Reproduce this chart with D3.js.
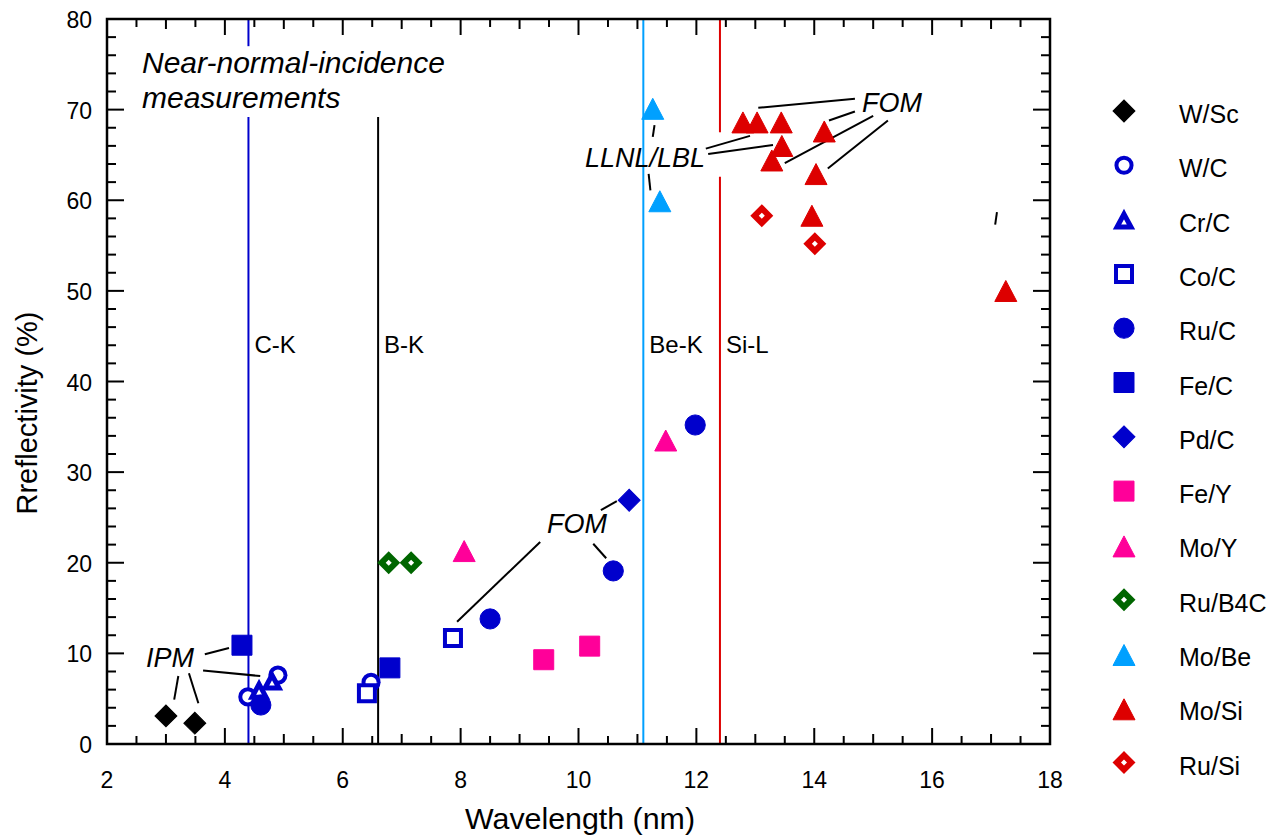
<!DOCTYPE html>
<html>
<head>
<meta charset="utf-8">
<script src="https://cdn.jsdelivr.net/npm/d3@7"></script>
<style>
  body { margin: 0; background: #fff; }
  svg text { font-family: "Liberation Sans", Arial, sans-serif; }
</style>
</head>
<body>
<svg id="chart" width="1272" height="838"></svg>
<script>
// ---- data ----
var seriesNames = ["W/Sc", "W/C", "Cr/C", "Co/C", "Ru/C", "Fe/C", "Pd/C", "Fe/Y", "Mo/Y", "Ru/B4C", "Mo/Be", "Mo/Si", "Ru/Si"];
var seriesColors = ["#000000", "#0000cc", "#0000cc", "#0000cc", "#0000cc", "#0000cc", "#0000cc", "#ff0099", "#ff0099", "#006600", "#00a0ff", "#dd0000", "#dd0000"];
var seriesShapes = ["diamond", "ocircle", "otriangle", "osquare", "circle", "square", "diamond", "square", "triangle", "odiamond", "triangle", "triangle", "odiamond"];

var wSc   = [[3.0, 3.1], [3.49, 2.3]];
var wC    = [[4.39, 5.2], [4.9, 7.6], [6.48, 6.8]];
var crC   = [[4.58, 6.0], [4.8, 7.0]];
var coC   = [[6.41, 5.6], [7.87, 11.7]];
var ruC   = [[4.61, 4.3], [8.5, 13.8], [10.59, 19.1], [11.98, 35.2]];
var feC   = [[4.29, 10.9], [6.8, 8.4]];
var pdC   = [[10.86, 26.9]];
var feY   = [[9.41, 9.3], [10.19, 10.8]];
var moY   = [[8.06, 21.4], [11.48, 33.6]];
var ruB4C = [[6.78, 20.0], [7.16, 20.0]];
var moBe  = [[11.26, 70.2], [11.38, 60.0]];
var moSi  = [[12.79, 68.7], [13.03, 68.7], [13.44, 68.7], [14.17, 67.7], [13.45, 66.1], [13.28, 64.5], [14.03, 63.0], [13.96, 58.4], [17.25, 50.1]];
var ruSi  = [[13.11, 58.3], [14.01, 55.2]];
var seriesData = [wSc, wC, crC, coC, ruC, feC, pdC, feY, moY, ruB4C, moBe, moSi, ruSi];

var xTicks = [2, 4, 6, 8, 10, 12, 14, 16, 18];
var yTicks = [0, 10, 20, 30, 40, 50, 60, 70, 80];

// absorption edges
var edgeNames = ["C-K", "B-K", "Be-K", "Si-L"];
var edgeX = [4.4, 6.6, 11.1, 12.4];
var edgeColors = ["#0000cc", "#000000", "#00a0ff", "#dd0000"];

function init(){
    var svg = d3.select("svg#chart");
    var left = 107, right = 1050, top = 19, bottom = 744;

    var x = d3.scaleLinear().domain([2, 18]).range([left, right]);
    var y = d3.scaleLinear().domain([0, 80]).range([bottom, top]);

    // edge lines, with gaps where the labels sit
    var edgeSegs = [
        [[80, 77], [69.2, 0]],
        [[69.2, 0]],
        [[80, 0]],
        [[80, 67.5], [62.6, 0]]
    ];
    edgeSegs.forEach(function(segs, i){
        segs.forEach(function(s){
            svg.append("line")
                .attr("x1", x(edgeX[i])).attr("x2", x(edgeX[i]))
                .attr("y1", y(s[0])).attr("y2", y(s[1]))
                .attr("stroke", edgeColors[i])
                .attr("stroke-width", 2);
        });
        svg.append("text")
            .attr("x", x(edgeX[i]) + 6)
            .attr("y", 353)
            .style("font-size", "24px")
            .text(edgeNames[i]);
    });

    // axes: inward ticks on all four sides
    var g = svg.append("g");
    var minorX = d3.range(2, 18.01, 0.5).filter(function(v){ return v % 2 !== 0; });
    var minorY = d3.range(0, 80.01, 2).filter(function(v){ return v % 10 !== 0; });

    function xTick(v, len){
        g.append("line").attr("x1", x(v)).attr("x2", x(v)).attr("y1", bottom).attr("y2", bottom - len);
        g.append("line").attr("x1", x(v)).attr("x2", x(v)).attr("y1", top).attr("y2", top + len);
    }
    function yTick(v, len){
        g.append("line").attr("y1", y(v)).attr("y2", y(v)).attr("x1", left).attr("x2", left + len);
        g.append("line").attr("y1", y(v)).attr("y2", y(v)).attr("x1", right).attr("x2", right - len);
    }
    minorX.forEach(function(v){ xTick(v, v % 1 === 0 ? 10 : 8); });
    xTicks.forEach(function(v){ xTick(v, 16); });
    minorY.forEach(function(v){ yTick(v, 9); });
    yTicks.forEach(function(v){ yTick(v, 17); });
    g.selectAll("line").attr("stroke", "#000").attr("stroke-width", 2);

    svg.append("rect")
        .attr("x", left).attr("y", top)
        .attr("width", right - left).attr("height", bottom - top)
        .attr("fill", "none").attr("stroke", "#000").attr("stroke-width", 2.5);

    svg.selectAll("text.xt").data(xTicks).enter().append("text")
        .attr("class", "xt")
        .attr("x", function(d){ return x(d); })
        .attr("y", bottom + 44)
        .attr("text-anchor", "middle")
        .style("font-size", "23px")
        .text(function(d){ return d; });

    svg.selectAll("text.yt").data(yTicks).enter().append("text")
        .attr("class", "yt")
        .attr("x", left - 15)
        .attr("y", function(d){ return y(d) + 9; })
        .attr("text-anchor", "end")
        .style("font-size", "23px")
        .text(function(d){ return d; });

    svg.append("text")
        .attr("x", 580).attr("y", 829)
        .attr("text-anchor", "middle")
        .style("font-size", "29px")
        .attr("textLength", 230)
        .attr("lengthAdjust", "spacingAndGlyphs")
        .text("Wavelength (nm)");

    svg.append("text")
        .attr("transform", "translate(37,413) rotate(-90)")
        .attr("text-anchor", "middle")
        .style("font-size", "29px")
        .text("Rreflectivity (%)");

    // annotation text
    function note(tx, ty, str, size){
        svg.append("text")
            .attr("x", tx).attr("y", ty)
            .style("font-size", size + "px")
            .style("font-style", "italic")
            .text(str);
    }
    note(142, 73, "Near-normal-incidence", 30);
    note(142, 108, "measurements", 30);
    note(862, 112, "FOM", 27);
    note(585, 167, "LLNL/LBL", 27);
    note(547, 533, "FOM", 27);
    note(146, 667, "IPM", 27);

    // leader lines, given in data units
    var leaders = [
        [[13.05, 70.2], [14.69, 71.2]],
        [[14.25, 68.8], [14.69, 69.8]],
        [[13.50, 64.1], [15.00, 69.3]],
        [[14.23, 63.5], [15.25, 68.8]],
        [[12.16, 65.7], [12.91, 67.1]],
        [[12.20, 65.1], [13.30, 66.1]],
        [[11.26, 67.0], [11.29, 68.3]],
        [[11.19, 62.9], [11.22, 61.1]],
        [[17.07, 57.3], [17.10, 58.7]],
        [[7.94, 13.5], [9.35, 22.3]],
        [[10.25, 22.1], [10.47, 20.5]],
        [[10.38, 25.8], [10.65, 26.8]],
        [[3.66, 9.9], [4.07, 10.6]],
        [[3.63, 8.1], [4.60, 7.5]],
        [[3.21, 7.5], [3.14, 4.9]],
        [[3.39, 7.8], [3.55, 4.5]]
    ];
    svg.selectAll("line.lead").data(leaders).enter().append("line")
        .attr("class", "lead")
        .attr("x1", function(d){ return x(d[0][0]); })
        .attr("y1", function(d){ return y(d[0][1]); })
        .attr("x2", function(d){ return x(d[1][0]); })
        .attr("y2", function(d){ return y(d[1][1]); })
        .attr("stroke", "#000").attr("stroke-width", 2);

    // markers
    function triPath(w, h){
        // apex up, centred on its box
        return "M0," + (-h / 2) + "L" + (w / 2) + "," + (h / 2) + "L" + (-w / 2) + "," + (h / 2) + "Z";
    }
    function marker(sel, shape, color){
        var filled = shape.charAt(0) !== "o";
        var base = filled ? shape : shape.slice(1);
        var d;
        if (base === "triangle") {
            d = filled ? triPath(22, 21) : triPath(14, 13);
        } else if (base === "circle") {
            d = d3.symbol().type(d3.symbolCircle).size(filled ? 320 : 180)();
        } else if (base === "square") {
            d = d3.symbol().type(d3.symbolSquare).size(filled ? 400 : 256)();
        } else {
            d = d3.symbol().type(d3.symbolSquare).size(filled ? 240 : 105)();
        }
        sel.append("path")
            .attr("d", d)
            .attr("transform", base === "diamond" ? "rotate(45)" : (base === "triangle" ? "translate(0,1)" : null))
            .attr("fill", filled ? color : "#fff")
            .attr("stroke", color)
            .attr("stroke-linejoin", "miter")
            .attr("stroke-width", filled ? 1 : (base === "diamond" ? 6 : (base === "triangle" ? 5 : 4)));
    }

    seriesData.forEach(function(pts, i){
        var grp = svg.append("g");
        pts.forEach(function(p){
            var m = grp.append("g").attr("transform", "translate(" + x(p[0]) + "," + y(p[1]) + ")");
            marker(m, seriesShapes[i], seriesColors[i]);
        });
    });

    // legend
    var legend = svg.append("g");
    seriesNames.forEach(function(name, i){
        var ly = 111 + i * 54.3;
        var m = legend.append("g").attr("transform", "translate(1124," + ly + ")");
        marker(m, seriesShapes[i], seriesColors[i]);
        legend.append("text")
            .attr("x", 1179).attr("y", ly + 12)
            .style("font-size", "25px")
            .text(name);
    });
}

init();
</script>
</body>
</html>
